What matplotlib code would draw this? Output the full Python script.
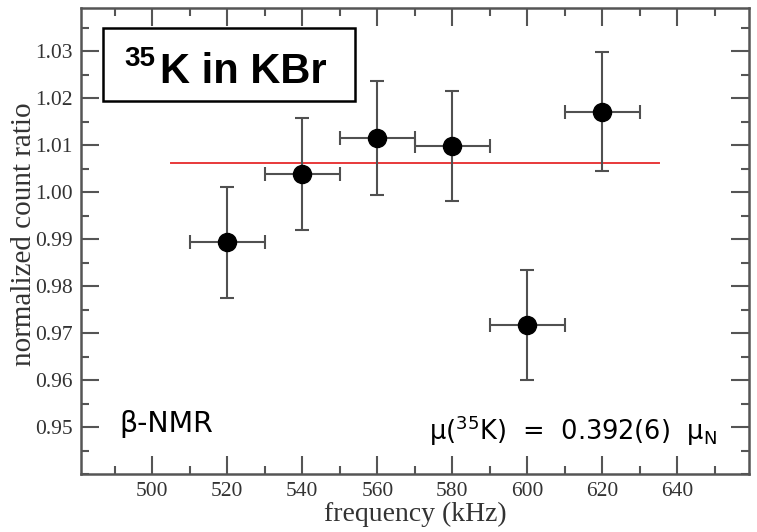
import matplotlib
matplotlib.use("Agg")
import matplotlib.pyplot as plt
from matplotlib.patches import Rectangle
from matplotlib.ticker import MultipleLocator

# Measured count ratios vs. RF frequency
freq_khz = [520, 540, 560, 580, 600, 620]
ratio = [0.9893, 1.0038, 1.0115, 1.0098, 0.9718, 1.0171]
ratio_err = [0.0118, 0.0119, 0.0121, 0.0117, 0.0117, 0.0127]
freq_err = [10, 10, 10, 10, 10, 10]

# Fitted constant level and its frequency span
fit_level = 1.0063
fit_span = [505, 635]

x_ticks = [500, 520, 540, 560, 580, 600, 620, 640]
y_ticks = [0.95, 0.96, 0.97, 0.98, 0.99, 1.00, 1.01, 1.02, 1.03]

fig = plt.figure(figsize=(7.57, 5.32), dpi=100)
ax = fig.add_axes([0.107, 0.109, 0.882, 0.876])

serif = ["Liberation Serif", "DejaVu Serif"]
sans = ["Liberation Sans", "DejaVu Sans"]
axis_grey = "#555555"
text_grey = "#333333"

ax.plot(fit_span, [fit_level, fit_level], color="#e8393a", lw=1.4, zorder=2)

ax.errorbar(freq_khz, ratio, yerr=ratio_err, xerr=freq_err, fmt="o",
            color="black", ms=13, ecolor="#505050", elinewidth=1.5,
            capsize=5, capthick=1.5, zorder=3)

ax.set_xlim(481, 659)
ax.set_ylim(0.94, 1.0392)
ax.set_xticks(x_ticks)
ax.set_yticks(y_ticks)
ax.xaxis.set_minor_locator(MultipleLocator(10))
ax.yaxis.set_minor_locator(MultipleLocator(0.005))
ax.set_xticklabels([str(v) for v in x_ticks], family=serif, fontsize=15.5, color=text_grey)
ax.set_yticklabels([f"{v:.2f}" for v in y_ticks], family=serif, fontsize=15.5, color=text_grey)

ax.tick_params(which="both", direction="in", top=True, right=True,
               color=axis_grey, width=1.5)
ax.tick_params(which="major", length=13, pad=6)
ax.tick_params(which="minor", length=6)
for s in ax.spines.values():
    s.set_color(axis_grey)
    s.set_linewidth(1.8)

ax.set_xlabel("frequency (kHz)", family=serif, fontsize=20, color=text_grey, labelpad=0)
ax.set_ylabel("normalized count ratio", family=serif, fontsize=21, color=text_grey)
ax.yaxis.set_label_coords(-0.066, 0.515)

# Title box
ax.add_patch(Rectangle((0.033, 0.800), 0.377, 0.157, transform=ax.transAxes,
                       fc="white", ec="black", lw=1.8, zorder=4))
ax.text(0.065, 0.876, "35", transform=ax.transAxes, ha="left", va="baseline",
        fontsize=20, fontweight="bold", family=sans, zorder=5)
ax.text(0.119, 0.840, "K in KBr", transform=ax.transAxes, ha="left", va="baseline",
        fontsize=30, fontweight="bold", family=sans, zorder=5)

ax.text(0.058, 0.091, "β-NMR", transform=ax.transAxes, ha="left", va="baseline",
        fontsize=20.5, family=["DejaVu Sans"])

ax.text(0.952, 0.072, r"μ($^{35}$K)  =  0.392(6)  μ$_{\mathrm{N}}$", transform=ax.transAxes,
        ha="right", va="baseline", fontsize=18.5, family=["DejaVu Sans"])

fig.savefig("out.png", dpi=100, facecolor="white")
